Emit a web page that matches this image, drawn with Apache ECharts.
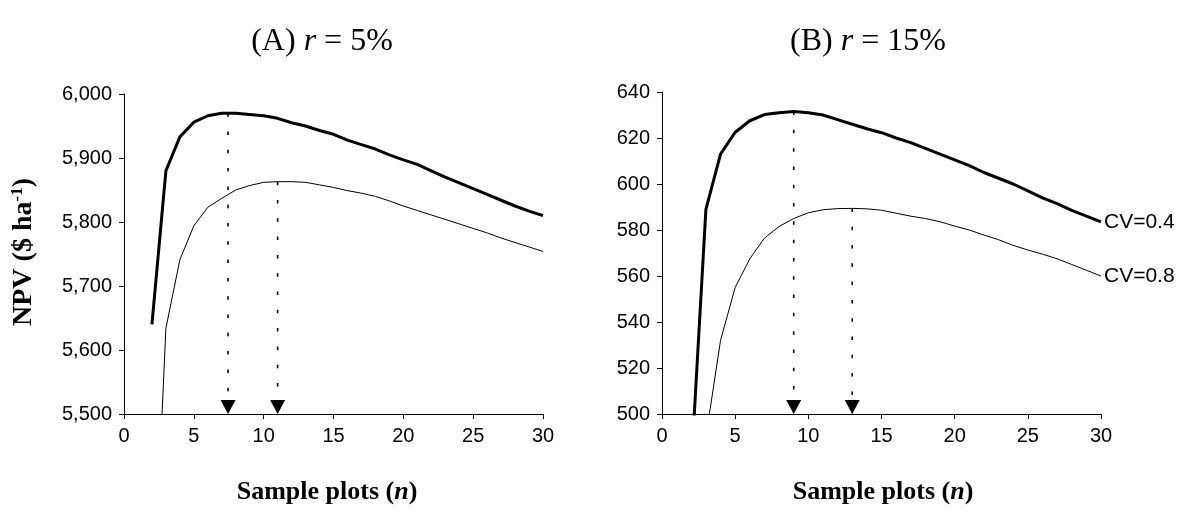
<!DOCTYPE html>
<html>
<head>
<meta charset="utf-8">
<script src="https://cdn.jsdelivr.net/npm/echarts@6/dist/echarts.min.js"></script>
<style>html,body{margin:0;padding:0;background:#fff}#c{width:1180px;height:517px}</style>
</head>
<body>
<div id="c"></div>
<script>
// Sample plots n
var nValues = [2,3,4,5,6,7,8,9,10,11,12,13,14,15,16,17,18,19,20,21,22,23,24,25,26,27,28,29,30];
// (A) r = 5%
var npvA_cv04 = [5640,5880,5933,5956,5966,5970,5970,5968,5966,5962,5955,5950,5943,5937,5928,5921,5914,5905,5897,5890,5880,5870,5861,5852,5843,5834,5825,5817,5810];
var npvA_cv08 = [5150,5634,5741,5794,5823,5837,5850,5857,5862,5863,5863,5862,5858,5854,5849,5845,5840,5833,5825,5818,5811,5804,5797,5790,5783,5775,5768,5761,5754];
// (B) r = 15%
var npvB_cv04 = [477,589,613,622.5,627.5,630.2,631,631.5,631,630,628,626,624,622.3,620,618,615.5,613,610.5,608,605,602.5,600,597,594,591.5,588.5,586,583.5];
var npvB_cv08 = [440,490,532,555,567.5,576.5,581.5,585,587.5,588.8,589.3,589.4,589.2,588.6,587.3,586,585,583.6,581.7,580,577.8,575.8,573.3,571.3,569.5,567.5,565,562.5,560];
// optimal n markers (n, NPV at optimum)
var optA_n = [7.45, 11];
var optA_top = [5970, 5863];
var optB_n = [9, 13];
var optB_top = [631.5, 589.4];
var seriesLabels = ['CV=0.4', 'CV=0.8'];
var titleA = '(A) {i|r} = 5%';
var titleB = '(B) {i|r} = 15%';
var yMinA = 5500, yMaxA = 6000, yStepA = 100;
var yMinB = 500, yMaxB = 640, yStepB = 20;

function pairs(xs, ys){ return xs.map(function(x,i){ return [x, ys[i]]; }); }

var sansFont = 'Liberation Sans, Arial, sans-serif';
var serifFont = 'Liberation Serif, Times New Roman, serif';

function xAxisCfg(idx){
  return {
    gridIndex: idx, type: 'value', min: 0, max: 30, interval: 5,
    axisLine: {show: true, onZero: false, lineStyle: {color: '#000', width: 1}},
    axisTick: {show: true, length: 5, lineStyle: {color: '#000'}},
    axisLabel: {color: '#000', fontSize: 20, fontFamily: sansFont, margin: 12},
    splitLine: {show: false}
  };
}
function yAxisCfg(idx, mn, mx, st, fmt){
  return {
    gridIndex: idx, type: 'value', min: mn, max: mx, interval: st,
    axisLine: {show: true, lineStyle: {color: '#000', width: 1}},
    axisTick: {show: true, length: 5, lineStyle: {color: '#000'}},
    axisLabel: {color: '#000', fontSize: 20, fontFamily: sansFont, margin: 12, formatter: fmt},
    splitLine: {show: false}
  };
}

function curve(idx, data, w, label){
  var s = {
    type: 'line', xAxisIndex: idx, yAxisIndex: idx, data: data,
    symbol: 'none', smooth: false, clip: true, silent: true,
    lineStyle: {color: '#000', width: w}
  };
  if (label) {
    s.endLabel = {show: true, formatter: label, color: '#000', fontSize: 21, fontFamily: sansFont, distance: 3};
  }
  return s;
}
function dotted(idx, n, top, ymin){
  return {
    type: 'line', xAxisIndex: idx, yAxisIndex: idx, data: [[n, top],[n, ymin]],
    symbol: 'none', silent: true,
    lineStyle: {color: '#000', width: 1.6, type: [3.5, 14.8]}
  };
}
function arrows(idx, ns, ymin){
  return {
    type: 'scatter', xAxisIndex: idx, yAxisIndex: idx, clip: false, silent: true,
    data: ns.map(function(n){ return [n, ymin]; }),
    symbol: 'triangle', symbolRotate: 180, symbolSize: [15, 14], symbolOffset: [0, -7],
    itemStyle: {color: '#000', opacity: 1}
  };
}

var series = [
  curve(0, pairs(nValues, npvA_cv04), 3),
  curve(0, pairs(nValues, npvA_cv08), 1),
  curve(1, pairs(nValues, npvB_cv04), 3, seriesLabels[0]),
  curve(1, pairs(nValues, npvB_cv08), 1, seriesLabels[1])
];
optA_n.forEach(function(n,i){ series.push(dotted(0, n, optA_top[i], yMinA)); });
optB_n.forEach(function(n,i){ series.push(dotted(1, n, optB_top[i], yMinB)); });
series.push(arrows(0, optA_n, yMinA));
series.push(arrows(1, optB_n, yMinB));

var chart = echarts.init(document.getElementById('c'), null, {renderer: 'canvas'});
chart.setOption({
  animation: false,
  backgroundColor: '#fff',
  grid: [
    {left: 124, top: 94, width: 419, height: 320},
    {left: 662, top: 92, width: 439, height: 322}
  ],
  xAxis: [xAxisCfg(0), xAxisCfg(1)],
  yAxis: [
    yAxisCfg(0, yMinA, yMaxA, yStepA, function(v){ return v.toLocaleString('en-US'); }),
    yAxisCfg(1, yMinB, yMaxB, yStepB, function(v){ return String(v); })
  ],
  series: series,
  graphic: [
    {type: 'text', x: 322, y: 42, silent: true, style: {text: titleA, fill: '#000', font: '32px ' + serifFont, textAlign: 'center', textVerticalAlign: 'middle',
      rich: {i: {fontStyle: 'italic', fontSize: 32, fontFamily: serifFont}}}},
    {type: 'text', x: 868, y: 42, silent: true, style: {text: titleB, fill: '#000', font: '32px ' + serifFont, textAlign: 'center', textVerticalAlign: 'middle',
      rich: {i: {fontStyle: 'italic', fontSize: 32, fontFamily: serifFont}}}},
    {type: 'text', x: 327, y: 492, silent: true, style: {text: 'Sample plots ({i|n})', fill: '#000', font: 'bold 26px ' + serifFont, textAlign: 'center', textVerticalAlign: 'middle',
      rich: {i: {fontStyle: 'italic', fontWeight: 'bold', fontSize: 26, fontFamily: serifFont}}}},
    {type: 'text', x: 883, y: 492, silent: true, style: {text: 'Sample plots ({i|n})', fill: '#000', font: 'bold 26px ' + serifFont, textAlign: 'center', textVerticalAlign: 'middle',
      rich: {i: {fontStyle: 'italic', fontWeight: 'bold', fontSize: 26, fontFamily: serifFont}}}},
    {type: 'text', x: 24, y: 252, rotation: Math.PI / 2, silent: true, style: {
      text: '{a|NPV ($ ha}{s|-1}{a|)}', fill: '#000', textAlign: 'center', textVerticalAlign: 'middle',
      rich: {
        a: {fontWeight: 'bold', fontSize: 28, fontFamily: serifFont, lineHeight: 30, verticalAlign: 'middle'},
        s: {fontWeight: 'bold', fontSize: 17, fontFamily: serifFont, lineHeight: 18, verticalAlign: 'top'}
      }}}
  ]
});
</script>
</body>
</html>
